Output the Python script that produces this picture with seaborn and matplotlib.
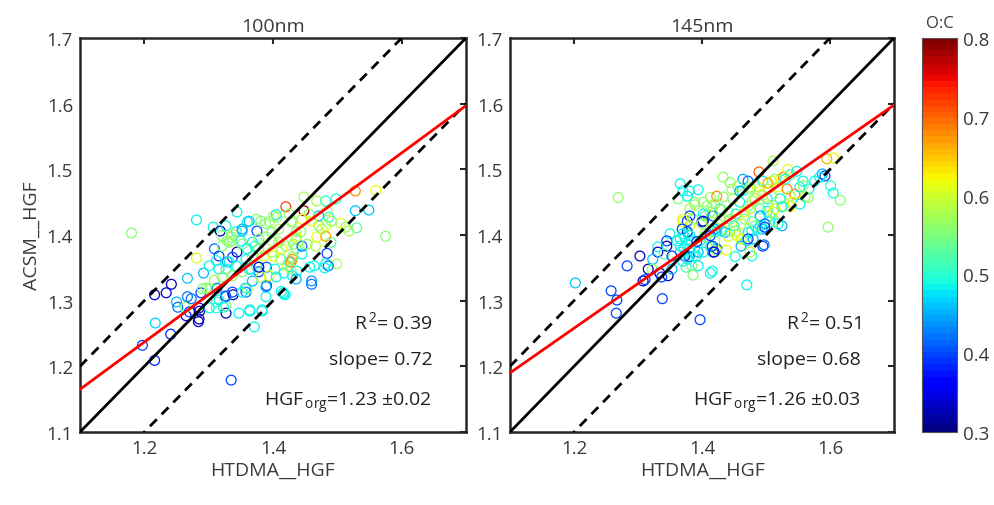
import numpy as np
import pandas as pd
import matplotlib
matplotlib.use("Agg")
import matplotlib.pyplot as plt
import seaborn as sns
from matplotlib.colors import Normalize
from matplotlib.cm import ScalarMappable

# ---------------- data ----------------
left_x = [1.180,1.281,1.344,1.307,1.318,1.281,1.309,1.316,1.267,1.292,1.242,1.234,1.216,1.250,1.252,1.267,1.265,1.270,1.286,1.284,
          1.264,1.288,1.296,1.309,1.217,1.241,1.197,1.216,1.335,1.327,1.347,1.364,1.371,1.383,1.312,1.312,1.327,1.337,1.338,1.327,
          1.313,1.357,1.358,1.360,1.368,1.389,1.390,1.378,1.390,1.403,1.417,1.416,1.430,1.422,1.394,1.381,1.420,1.401,1.405,1.389,
          1.374,1.360,1.352,1.343,1.335,1.337,1.329,1.350,1.321,1.375,1.368,1.344,1.337,1.329,1.327,1.343,1.358,1.368,1.386,1.398,
          1.414,1.430,1.420,1.409,1.398,1.378,1.374,1.363,1.436,1.436,1.428,1.327,1.337,1.352,1.363,1.381,1.394,1.406,1.425,1.409,
          1.398,1.389,1.378,1.372,1.360,1.352,1.332,1.321,1.312,1.301,1.316,1.332,1.321,1.337,1.352,1.366,1.378,1.405,1.425,1.412,
          1.401,1.432,1.436,1.437,1.436,1.560,1.528,1.528,1.549,1.575,1.530,1.518,1.513,1.505,1.490,1.499,1.484,1.482,1.460,1.464,
          1.457,1.445,1.445,1.430,1.428,1.428,1.453,1.466,1.468,1.482,1.476,1.471,1.482,1.487,1.491,1.484,1.471,1.468,1.482,1.498,
          1.448,1.448,1.456,1.445,1.460,1.430,1.436,1.443,1.417,1.486,1.480,1.389,1.419,1.413,1.383,1.364,1.460,1.352,1.326,1.316,
          1.323,1.301,1.285,1.285,1.301,1.290,1.273]
left_y = [1.403,1.423,1.435,1.412,1.406,1.365,1.379,1.368,1.334,1.342,1.325,1.312,1.309,1.298,1.290,1.306,1.277,1.283,1.284,1.268,
          1.290,1.312,1.319,1.331,1.266,1.249,1.232,1.209,1.179,1.281,1.281,1.284,1.260,1.284,1.298,1.289,1.292,1.313,1.309,1.306,
          1.319,1.319,1.313,1.318,1.330,1.306,1.323,1.344,1.351,1.348,1.342,1.312,1.338,1.353,1.338,1.336,1.443,1.429,1.431,1.417,
          1.424,1.420,1.406,1.405,1.397,1.391,1.391,1.391,1.399,1.406,1.389,1.374,1.366,1.359,1.348,1.353,1.363,1.368,1.368,1.374,
          1.379,1.363,1.383,1.389,1.391,1.379,1.353,1.348,1.405,1.379,1.420,1.414,1.401,1.409,1.421,1.421,1.420,1.427,1.432,1.409,
          1.404,1.397,1.394,1.383,1.379,1.386,1.389,1.383,1.361,1.353,1.348,1.359,1.336,1.338,1.344,1.348,1.351,1.336,1.359,1.363,
          1.368,1.386,1.394,1.345,1.333,1.468,1.467,1.437,1.438,1.398,1.411,1.406,1.412,1.418,1.389,1.356,1.372,1.356,1.330,1.353,
          1.351,1.371,1.383,1.366,1.359,1.348,1.386,1.383,1.397,1.398,1.409,1.414,1.414,1.427,1.421,1.437,1.429,1.452,1.452,1.455,
          1.458,1.437,1.432,1.424,1.421,1.421,1.397,1.405,1.310,1.353,1.350,1.321,1.309,1.314,1.286,1.286,1.325,1.313,1.307,1.301,
          1.290,1.289,1.272,1.289,1.318,1.318,1.303]
left_oc = [0.55,0.48,0.48,0.48,0.33,0.60,0.42,0.40,0.46,0.45,0.33,0.34,0.33,0.45,0.42,0.42,0.35,0.40,0.33,0.33,
           0.55,0.40,0.55,0.57,0.47,0.38,0.40,0.38,0.40,0.33,0.48,0.48,0.48,0.48,0.52,0.50,0.55,0.40,0.33,0.45,
           0.43,0.47,0.42,0.56,0.46,0.48,0.40,0.40,0.41,0.48,0.48,0.48,0.48,0.60,0.62,0.58,0.72,0.58,0.48,0.55,
           0.56,0.48,0.45,0.48,0.55,0.57,0.55,0.48,0.56,0.40,0.48,0.33,0.40,0.45,0.48,0.48,0.48,0.55,0.61,0.56,
           0.61,0.67,0.56,0.56,0.58,0.55,0.55,0.48,0.56,0.55,0.56,0.48,0.58,0.45,0.46,0.55,0.56,0.56,0.55,0.58,
           0.55,0.55,0.56,0.49,0.48,0.55,0.56,0.55,0.48,0.48,0.48,0.48,0.55,0.56,0.55,0.48,0.35,0.48,0.48,0.55,
           0.61,0.56,0.56,0.48,0.45,0.62,0.68,0.46,0.46,0.56,0.53,0.58,0.56,0.60,0.52,0.58,0.40,0.48,0.44,0.48,
           0.48,0.48,0.42,0.56,0.68,0.56,0.56,0.58,0.62,0.67,0.58,0.56,0.61,0.50,0.56,0.58,0.46,0.58,0.50,0.49,
           0.57,0.78,0.56,0.61,0.62,0.56,0.61,0.55,0.48,0.42,0.48,0.45,0.48,0.48,0.48,0.48,0.42,0.48,0.40,0.48,
           0.48,0.48,0.33,0.33,0.56,0.55,0.42]

right_x = [1.269,1.366,1.380,1.394,1.363,1.388,1.389,1.381,1.370,1.377,1.386,1.400,1.350,1.378,1.373,1.345,1.345,1.331,1.331,1.323,
           1.341,1.303,1.283,1.316,1.322,1.334,1.347,1.353,1.366,1.372,1.381,1.386,1.394,1.384,1.394,1.386,1.308,1.202,1.258,1.267,
           1.266,1.338,1.397,1.361,1.366,1.377,1.470,1.452,1.438,1.416,1.413,1.375,1.370,1.380,1.391,1.402,1.417,1.423,1.413,1.353,
           1.337,1.311,1.478,1.475,1.495,1.408,1.413,1.423,1.420,1.413,1.428,1.402,1.381,1.405,1.413,1.417,1.425,1.416,1.383,1.405,
           1.397,1.420,1.511,1.489,1.433,1.464,1.472,1.444,1.456,1.447,1.463,1.475,1.486,1.495,1.509,1.522,1.527,1.534,1.548,1.538,
           1.519,1.533,1.545,1.553,1.558,1.566,1.538,1.522,1.509,1.502,1.491,1.503,1.483,1.472,1.459,1.448,1.433,1.416,1.402,1.370,
           1.377,1.431,1.441,1.453,1.466,1.475,1.491,1.502,1.491,1.506,1.514,1.527,1.538,1.503,1.467,1.478,1.461,1.450,1.444,1.428,
           1.402,1.400,1.381,1.370,1.377,1.369,1.366,1.370,1.381,1.392,1.405,1.413,1.423,1.431,1.436,1.444,1.455,1.464,1.470,1.480,
           1.478,1.494,1.491,1.483,1.506,1.519,1.525,1.497,1.423,1.416,1.419,1.381,1.373,1.378,1.595,1.606,1.588,1.601,1.605,1.616,
           1.597,1.592,1.576,1.567,1.558,1.561,1.542,1.553,1.525,1.530,1.514,1.503,1.494,1.475,1.459,1.498,1.511,1.478,1.514,1.472,
           1.488,1.498,1.452,1.441,1.431,1.420,1.461,1.472,1.461,1.584]
right_y = [1.457,1.478,1.467,1.469,1.455,1.450,1.446,1.440,1.420,1.421,1.424,1.420,1.402,1.402,1.397,1.391,1.383,1.382,1.374,1.363,
           1.371,1.368,1.353,1.348,1.348,1.342,1.338,1.348,1.374,1.379,1.374,1.368,1.374,1.353,1.353,1.339,1.330,1.327,1.315,1.301,
           1.281,1.303,1.271,1.391,1.383,1.386,1.324,1.367,1.377,1.345,1.342,1.351,1.360,1.367,1.368,1.374,1.374,1.379,1.382,1.368,
           1.336,1.332,1.368,1.374,1.383,1.444,1.457,1.459,1.447,1.435,1.440,1.432,1.429,1.429,1.420,1.429,1.417,1.406,1.391,1.402,
           1.391,1.391,1.513,1.496,1.488,1.485,1.482,1.480,1.474,1.470,1.467,1.473,1.474,1.482,1.482,1.485,1.488,1.500,1.497,1.492,
           1.473,1.470,1.462,1.473,1.482,1.457,1.459,1.455,1.459,1.455,1.467,1.470,1.455,1.444,1.450,1.455,1.458,1.444,1.450,1.467,
           1.459,1.438,1.435,1.432,1.435,1.440,1.440,1.436,1.429,1.429,1.440,1.444,1.443,1.444,1.424,1.420,1.417,1.414,1.424,1.424,
           1.421,1.417,1.414,1.424,1.405,1.409,1.394,1.402,1.399,1.390,1.397,1.399,1.406,1.409,1.404,1.406,1.399,1.394,1.391,1.394,
           1.406,1.409,1.414,1.414,1.420,1.417,1.414,1.385,1.376,1.383,1.374,1.379,1.368,1.363,1.516,1.517,1.493,1.475,1.464,1.453,
           1.412,1.490,1.482,1.470,1.475,1.458,1.450,1.447,1.443,1.485,1.485,1.479,1.460,1.470,1.467,1.417,1.435,1.452,1.421,1.404,
           1.409,1.412,1.406,1.398,1.406,1.409,1.394,1.394,1.383,1.488]
right_oc = [0.56,0.48,0.48,0.48,0.55,0.56,0.56,0.58,0.62,0.40,0.56,0.40,0.48,0.48,0.48,0.40,0.33,0.48,0.34,0.46,
            0.52,0.33,0.40,0.33,0.55,0.33,0.33,0.45,0.48,0.48,0.48,0.52,0.45,0.55,0.48,0.55,0.33,0.46,0.40,0.40,
            0.40,0.40,0.40,0.48,0.48,0.48,0.48,0.48,0.62,0.48,0.48,0.52,0.48,0.42,0.48,0.48,0.42,0.40,0.48,0.40,
            0.40,0.40,0.50,0.58,0.40,0.56,0.56,0.68,0.56,0.55,0.48,0.48,0.40,0.52,0.61,0.42,0.56,0.48,0.48,0.55,
            0.48,0.56,0.58,0.70,0.56,0.45,0.42,0.56,0.56,0.58,0.48,0.56,0.62,0.48,0.62,0.62,0.68,0.62,0.48,0.52,
            0.62,0.68,0.68,0.48,0.48,0.56,0.56,0.48,0.56,0.48,0.62,0.56,0.58,0.56,0.48,0.56,0.56,0.58,0.56,0.48,
            0.48,0.58,0.58,0.48,0.61,0.58,0.52,0.48,0.44,0.48,0.62,0.58,0.62,0.58,0.55,0.53,0.60,0.48,0.56,0.56,
            0.33,0.58,0.60,0.61,0.40,0.40,0.48,0.48,0.48,0.40,0.55,0.40,0.48,0.55,0.45,0.56,0.60,0.61,0.48,0.45,
            0.48,0.45,0.48,0.55,0.48,0.48,0.45,0.42,0.58,0.40,0.33,0.48,0.40,0.48,0.66,0.62,0.45,0.50,0.48,0.55,
            0.56,0.40,0.48,0.48,0.56,0.58,0.61,0.48,0.48,0.48,0.56,0.67,0.58,0.56,0.45,0.42,0.61,0.56,0.56,0.48,
            0.48,0.40,0.56,0.61,0.48,0.45,0.61,0.40,0.45,0.48]

panel_titles = ["100nm", "145nm"]
fit_slope = [0.72, 0.68]
fit_intercept = [0.373, 0.442]
r2_values = ["0.39", "0.51"]
hgf_org = ["1.23", "1.26"]
hgf_err = ["0.02", "0.03"]
oc_range = (0.3, 0.8)
y_ticks = [1.1, 1.2, 1.3, 1.4, 1.5, 1.6, 1.7]
x_ticks = [1.2, 1.4, 1.6]
cbar_ticks = [0.3, 0.4, 0.5, 0.6, 0.7, 0.8]

# ---------------- styling ----------------
sns.set_theme(style="white")
plt.rcParams["font.family"] = ["Open Sans", "DejaVu Sans"]
plt.rcParams["mathtext.fontset"] = "custom"
plt.rcParams["mathtext.rm"] = "Open Sans"
plt.rcParams["mathtext.it"] = "Open Sans"
TXT = "#3a3a3a"

fig = plt.figure(figsize=(9.94, 5.06), dpi=100)
W, H = 994, 506
def rect(x0, y0, x1, y1):
    return [x0 / W, 1 - y1 / H, (x1 - x0) / W, (y1 - y0) / H]

axes = [fig.add_axes(rect(80, 39, 466, 433)), fig.add_axes(rect(510, 39, 894, 433))]
cax = fig.add_axes(rect(922, 39, 957, 433))

cmap = plt.get_cmap("jet", 64)
norm = Normalize(*oc_range)

datasets = [
    pd.DataFrame({"htdma": left_x, "acsm": left_y, "oc": left_oc}),
    pd.DataFrame({"htdma": right_x, "acsm": right_y, "oc": right_oc}),
]

for i, (ax, df) in enumerate(zip(axes, datasets)):
    sns.scatterplot(data=df, x="htdma", y="acsm", hue="oc", palette=cmap,
                    hue_norm=norm, legend=False, ax=ax, s=50, marker="o",
                    linewidth=0.9)
    coll = ax.collections[0]
    fcs = coll.get_facecolors()
    coll.set_edgecolors(fcs)
    coll.set_facecolors("none")

    xs = np.array([1.1, 1.7])
    ax.plot(xs, xs, color="black", lw=2.0, zorder=3)
    ax.plot(xs, xs + 0.1, color="black", lw=2.0, ls=(0, (3.5, 2.5)), zorder=3)
    ax.plot(xs, xs - 0.1, color="black", lw=2.0, ls=(0, (3.5, 2.5)), zorder=3)
    ax.plot(xs, fit_intercept[i] + fit_slope[i] * xs, color="#ff0000", lw=2.0, zorder=4)

    ax.set_xlim(1.1, 1.7)
    ax.set_ylim(1.1, 1.7)
    ax.set_xticks(x_ticks)
    ax.set_yticks(y_ticks)
    ax.set_xticklabels([f"{v:.1f}" for v in x_ticks])
    ax.set_yticklabels([f"{v:.1f}" for v in y_ticks])
    ax.tick_params(direction="in", length=4, width=1.5, colors="#262626",
                   labelcolor=TXT, labelsize=13.5, top=True, right=True, pad=5)
    for sp in ax.spines.values():
        sp.set_linewidth(1.8)
        sp.set_color("#262626")
    ax.set_xlabel("HTDMA__HGF", fontsize=14, color=TXT, labelpad=3)
    ax.set_ylabel("ACSM__HGF" if i == 0 else "", fontsize=14, color=TXT, labelpad=4)
    ax.set_title(panel_titles[i], fontsize=14, color=TXT, pad=5)

    ax.text(1.648, 1.269, r"R$^{\,2}$= " + r2_values[i], ha="right", va="center",
            fontsize=14, color="#222222")
    ax.text(1.648, 1.211, "slope= " + f"{fit_slope[i]:.2f}", ha="right", va="center",
            fontsize=14, color="#222222")
    ax.text(1.648, 1.145, r"HGF$_{\,\mathrm{org}}$=" + hgf_org[i] + " \u00b1" + hgf_err[i],
            ha="right", va="center", fontsize=14, color="#222222")

sm = ScalarMappable(norm=norm, cmap=cmap)
cb = fig.colorbar(sm, cax=cax, ticks=cbar_ticks)
cb.ax.set_yticklabels([f"{v:.1f}" for v in cbar_ticks])
cb.ax.tick_params(direction="in", length=0, labelsize=13.5, labelcolor=TXT, pad=4)
cb.outline.set_linewidth(0.8)
cb.outline.set_edgecolor("#555555")
cax.set_title("O:C", fontsize=12, color=TXT, pad=8)

fig.savefig("out.png", dpi=100)
